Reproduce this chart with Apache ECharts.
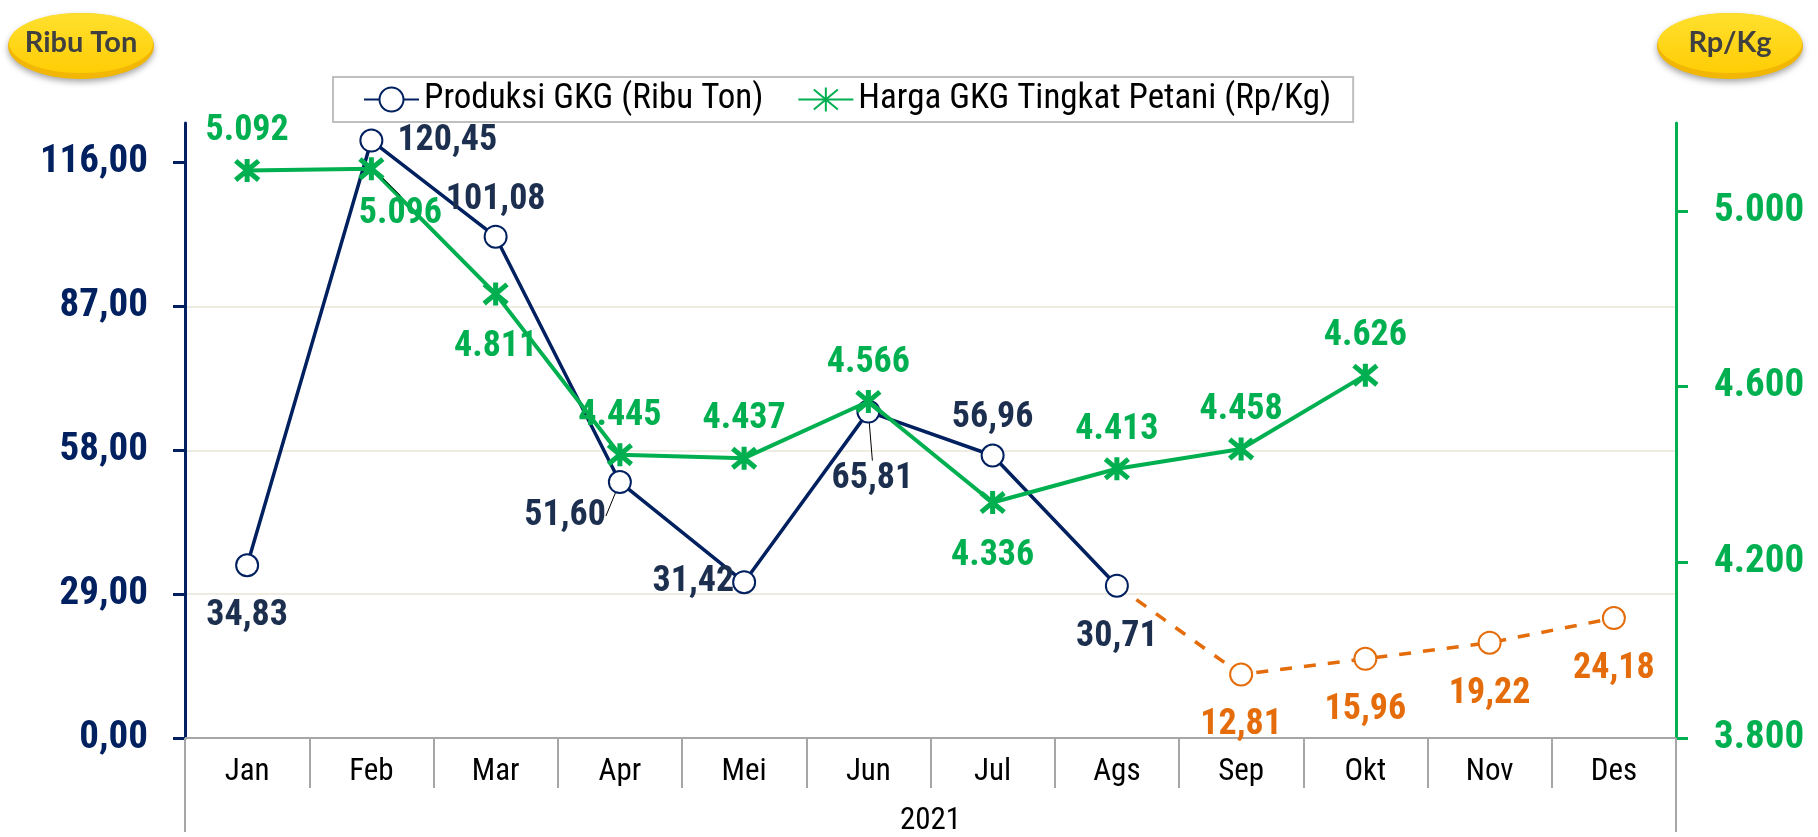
<!DOCTYPE html>
<html>
<head>
<meta charset="utf-8">
<script src="https://cdn.jsdelivr.net/npm/echarts@6/dist/echarts.min.js"></script>
<style>
  html, body { margin: 0; padding: 0; background: #ffffff; }
  #chart { width: 1818px; height: 837px; }
</style>
</head>
<body>
<div id="chart"></div>
<script>
// Months of 2021
const months = ['Jan', 'Feb', 'Mar', 'Apr', 'Mei', 'Jun', 'Jul', 'Ags', 'Sep', 'Okt', 'Nov', 'Des'];
const yearLabel = ['2021'];

// Produksi GKG (ribu ton): realisasi Jan–Ags, proyeksi Sep–Des
const produksi = [34.83, 120.45, 101.08, 51.60, 31.42, 65.81, 56.96, 30.71, null, null, null, null];
const produksiProyeksi = [null, null, null, null, null, null, null, 30.71, 12.81, 15.96, 19.22, 24.18];

// Harga GKG tingkat petani (Rp/Kg)
const harga = [5092, 5096, 4811, 4445, 4437, 4566, 4336, 4413, 4458, 4626, null, null];

// Axis ticks
const leftTicks = [0, 29, 58, 87, 116];
const rightTicks = [3800, 4200, 4600, 5000];

const NARROW = "'Roboto Condensed', Roboto, sans-serif";
const NAVY = '#002060';
const NAVY_TEXT = '#1C2F4F';
const GREEN = '#00B050';
const ORANGE = '#E46C0A';
const GRAY = '#A6A6A6';

const fmtRibu = v => v.toFixed(2).replace('.', ',');
const fmtRp = v => String(v).replace(/\B(?=(\d{3})+(?!\d))/g, '.');

// Label placement around each point
const ABOVE = { position: 'top', distance: 7 };
const BELOW = { position: 'bottom', distance: 21 };
const produksiLabel = [
  BELOW,
  { position: 'right', distance: 14 },
  ABOVE,
  { position: 'left', distance: 12 },
  { position: 'left', distance: 6 },
  BELOW,
  ABOVE,
  BELOW
];
const hargaLabel = [ABOVE, BELOW, BELOW, ABOVE, ABOVE, ABOVE, BELOW, ABOVE, ABOVE, ABOVE];

// Labels nudged from their default spot (some joined back by a thin leader)
const produksiShift = { 3: { dx: 10, dy: 34 }, 4: { dx: 8, dy: 0 }, 5: { dx: 4, dy: 16 } };
const produksiLeader = { 3: true, 5: true };
const hargaShift = { 1: { dx: 29, dy: -8 } };
const hargaLeader = { 1: true };

const labelBase = { show: true, fontFamily: NARROW, fontSize: 36, fontWeight: 'bold' };
const leader = { show: true, lineStyle: { color: '#000000', width: 1 } };

const produksiData = produksi.map((v, i) => v == null ? '-' : {
  value: v,
  label: Object.assign({}, labelBase, { color: NAVY_TEXT, formatter: p => fmtRibu(p.value) }, produksiLabel[i]),
  labelLine: produksiLeader[i] ? leader : { show: false }
});
const proyeksiData = produksiProyeksi.map((v, i) => {
  if (v == null) return '-';
  if (produksi[i] != null) return { value: v, symbol: 'none', label: { show: false } };
  return {
    value: v,
    label: Object.assign({}, labelBase, { color: ORANGE, formatter: p => fmtRibu(p.value) }, BELOW)
  };
});
const hargaData = harga.map((v, i) => v == null ? '-' : {
  value: v,
  label: Object.assign({}, labelBase, { color: GREEN, formatter: p => fmtRp(p.value) }, hargaLabel[i]),
  labelLine: hargaLeader[i] ? leader : { show: false }
});

// Asterisk marker: an X crossed by a vertical bar
const STAR = 'path://M0,0 L10,10 M10,0 L0,10 M5,-1 L5,11';

function badge(cx, text) {
  return {
    type: 'group',
    children: [
      {
        type: 'ellipse',
        shape: { cx: cx, cy: 46, rx: 73, ry: 33 },
        style: { fill: '#F2B705', shadowBlur: 6, shadowOffsetY: 3, shadowColor: 'rgba(0,0,0,0.35)' }
      },
      {
        type: 'ellipse',
        shape: { cx: cx, cy: 43, rx: 72, ry: 30 },
        style: {
          fill: new echarts.graphic.LinearGradient(0, 0, 0, 1, [
            { offset: 0, color: '#FFE02E' },
            { offset: 1, color: '#FFCD05' }
          ])
        }
      },
      {
        type: 'text',
        x: cx, y: 43,
        style: {
          text: text, fill: '#404040', font: "bold 29px Lato, 'Open Sans', sans-serif",
          align: 'center', verticalAlign: 'middle'
        }
      }
    ]
  };
}

const chart = echarts.init(document.getElementById('chart'), null, { renderer: 'canvas' });
chart.setOption({
  animation: false,
  backgroundColor: '#ffffff',
  grid: { left: 185, right: 142, top: 123, bottom: 94, containLabel: false },
  graphic: [badge(81, 'Ribu Ton'), badge(1730, 'Rp/Kg')],
  legend: {
    data: ['Produksi GKG (Ribu Ton)', 'Harga GKG Tingkat Petani (Rp/Kg)'],
    left: 333, top: 77,
    padding: [5, 22, 5, 30],
    borderColor: '#BFBFBF', borderWidth: 2,
    itemWidth: 55, itemHeight: 30, itemGap: 34,
    textStyle: { fontFamily: NARROW, fontSize: 35, color: '#000000' }
  },
  xAxis: [
    {
      type: 'category', data: months, position: 'bottom', boundaryGap: true,
      axisLine: { show: true, lineStyle: { color: GRAY, width: 2 } },
      axisTick: { show: true, interval: 0, length: 50, lineStyle: { color: GRAY, width: 2 } },
      axisLabel: { interval: 0, margin: 19, fontFamily: NARROW, fontSize: 31, color: '#000000' },
      splitLine: { show: false }
    },
    {
      type: 'category', data: yearLabel, position: 'bottom', boundaryGap: true,
      axisLine: { show: false },
      axisTick: { show: true, interval: 0, length: 94, lineStyle: { color: GRAY, width: 2 } },
      axisLabel: { margin: 68, fontFamily: NARROW, fontSize: 31, color: '#000000' },
      splitLine: { show: false }
    }
  ],
  yAxis: [
    {
      type: 'value', position: 'left', min: 0, max: 124, interval: 29,
      axisLine: { show: true, lineStyle: { color: NAVY, width: 3 } },
      axisTick: { show: true, customValues: leftTicks, length: 12, lineStyle: { color: NAVY, width: 3 } },
      axisLabel: {
        customValues: leftTicks, margin: 37, fontFamily: NARROW, fontSize: 39, fontWeight: 'bold', color: NAVY,
        formatter: v => fmtRibu(v)
      },
      splitLine: { show: true, showMinLine: false, showMaxLine: false, lineStyle: { color: '#EEECE1', width: 2 } }
    },
    {
      type: 'value', position: 'right', min: 3800, max: 5200, interval: 400,
      axisLine: { show: true, lineStyle: { color: GREEN, width: 3 } },
      axisTick: { show: true, customValues: rightTicks, length: 12, lineStyle: { color: GREEN, width: 3 } },
      axisLabel: {
        customValues: rightTicks, margin: 38, fontFamily: NARROW, fontSize: 39, fontWeight: 'bold', color: GREEN,
        formatter: v => fmtRp(v)
      },
      splitLine: { show: false }
    }
  ],
  series: [
    {
      name: 'Proyeksi Produksi', type: 'line', xAxisIndex: 0, yAxisIndex: 0,
      data: proyeksiData, connectNulls: false,
      symbol: 'emptyCircle', symbolSize: 22,
      lineStyle: { color: ORANGE, width: 3.5, type: [12, 12] },
      itemStyle: { color: ORANGE, borderColor: ORANGE, borderWidth: 3.5 },
      z: 2
    },
    {
      name: 'Produksi GKG (Ribu Ton)', type: 'line', xAxisIndex: 0, yAxisIndex: 0,
      data: produksiData,
      symbol: 'emptyCircle', symbolSize: 22,
      lineStyle: { color: NAVY, width: 3.5 },
      itemStyle: { color: NAVY, borderColor: NAVY, borderWidth: 3.5 },
      labelLayout: p => produksiShift[p.dataIndex] || {},
      z: 3
    },
    {
      name: 'Harga GKG Tingkat Petani (Rp/Kg)', type: 'line', xAxisIndex: 0, yAxisIndex: 1,
      data: hargaData,
      symbol: STAR, symbolSize: 23,
      lineStyle: { color: GREEN, width: 4 },
      itemStyle: { color: 'rgba(0,0,0,0)', borderColor: GREEN, borderWidth: 5 },
      labelLayout: p => hargaShift[p.dataIndex] || {},
      z: 4
    }
  ]
});
</script>
</body>
</html>
